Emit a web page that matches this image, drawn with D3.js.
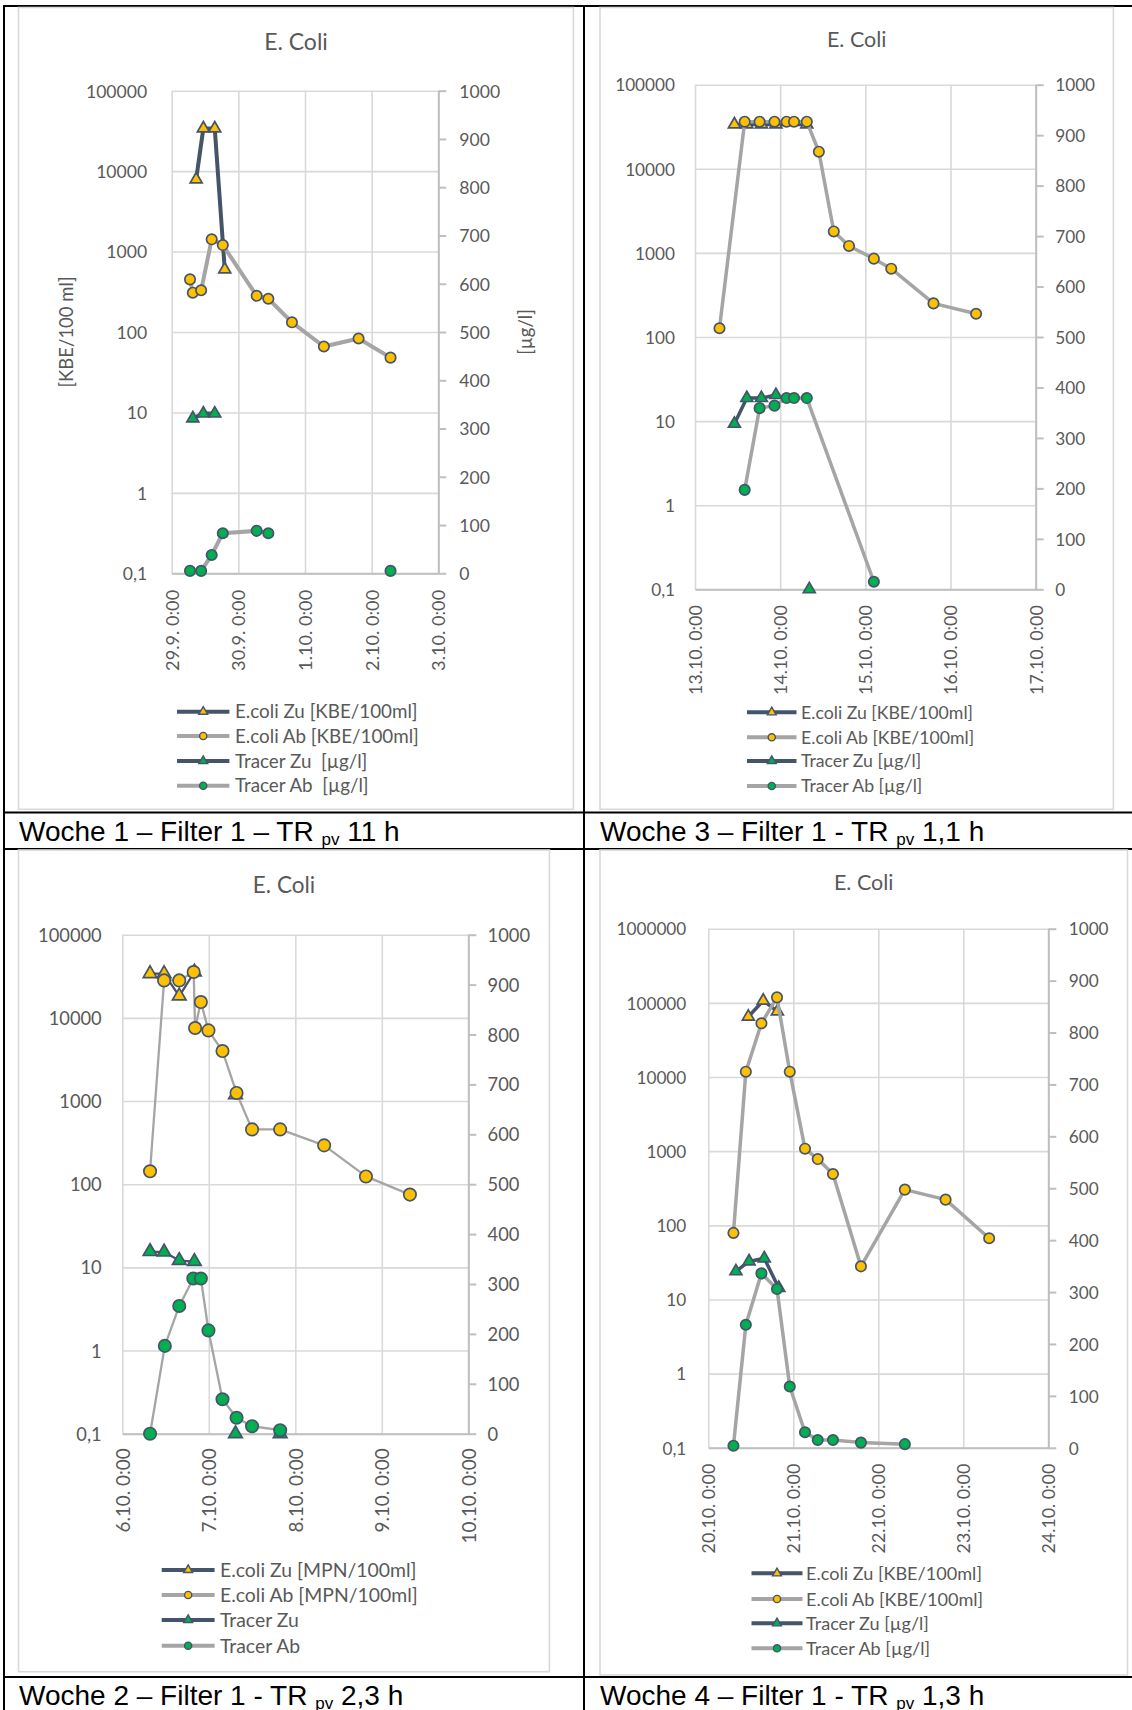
<!DOCTYPE html>
<html><head><meta charset="utf-8">
<script src="https://cdn.jsdelivr.net/npm/d3@7"></script>
<style>
body{margin:0;background:#fff;}
svg{display:block;}
text{white-space:pre;}
</style></head><body>
<svg id="c" width="1132" height="1710"></svg>
<script>
// ---------------- DATA (hours after the first axis day, 0:00) ----------------
// Woche 1 (axis starts 29.9. 0:00)
const w1_ecoliZu_h = [8.8, 11.4, 15.5, 19.1];
const w1_ecoliZu_v = [7900, 34000, 34000, 600];
const w1_ecoliAb_h = [6.6, 7.6, 10.6, 14.4, 18.4, 30.6, 34.8, 43.3, 54.8, 67.3, 78.8];
const w1_ecoliAb_v = [451, 308, 330, 1420, 1205, 282, 259, 132, 66, 83, 48];
const w1_tracerZu_h = [7.6, 11.4, 15.5];
const w1_tracerZu_v = [321, 331, 331];
const w1_tracerAb_h = [6.6, 10.6, 14.4, 18.4, 30.6, 34.8, 43.3, 78.8];
const w1_tracerAb_v = [5, 5, 38, 83, 88, 83, null, 5];

// Woche 3 (axis starts 13.10. 0:00)
const w3_ecoliZu_h = [11.1, 14.6, 18.7, 22.8, 31.5];
const w3_ecoliZu_v = [33700, 33700, 33700, 33700, 33700];
const w3_ecoliAb_h = [6.9, 14.0, 18.2, 22.4, 25.8, 27.9, 31.5, 34.9, 39.1, 43.4, 50.4, 55.3, 67.2, 79.2];
const w3_ecoliAb_v = [127, 36300, 36300, 36300, 36300, 36300, 36300, 15960, 1800, 1210, 854, 649, 251, 189];
const w3_tracerZu_h = [11.1, 14.6, 18.7, 22.8, 27.9, 32.2];
const w3_tracerZu_v = [328, 379, 379, 385, null, 0];
const w3_tracerAb_h = [14.0, 18.2, 22.4, 25.8, 27.9, 31.5, 50.4];
const w3_tracerAb_v = [197, 359, 364, 379, 379, 379, 15];

// Woche 2 (axis starts 6.10. 0:00)
const w2_ecoliZu_h = [7.7, 11.6, 15.8, 20.0, 23.9, 31.4];
const w2_ecoliZu_v = [34000, 34000, 18300, 35600, null, 1190];
const w2_ecoliAb_h = [7.7, 11.6, 15.8, 19.8, 20.2, 21.8, 23.9, 27.8, 31.7, 36.0, 43.8, 56.0, 67.6, 79.8];
const w2_ecoliAb_v = [143, 28200, 28200, 35600, 7550, 15500, 7070, 3990, 1250, 456, 456, 293, 124, 75];
const w2_tracerZu_h = [7.7, 11.6, 15.8, 20.0, 23.9, 31.4, 36.0, 43.8];
const w2_tracerZu_v = [365, 364, 347, 345, null, 0, null, 0];
const w2_tracerAb_h = [7.7, 11.8, 15.8, 19.7, 21.8, 23.9, 27.8, 31.7, 36.0, 43.8];
const w2_tracerAb_v = [0, 176, 256, 311, 311, 207, 69, 32, 15, 7];

// Woche 4 (axis starts 20.10. 0:00)
const w4_ecoliZu_h = [11.3, 15.5, 19.5];
const w4_ecoliZu_v = [65000, 107000, 76800];
const w4_ecoliAb_h = [7.1, 10.6, 15.0, 19.4, 23.0, 27.3, 30.9, 35.2, 43.1, 55.5, 67.0, 79.3];
const w4_ecoliAb_v = [79, 11800, 53000, 118600, 11800, 1080, 783, 492, 28, 303, 222, 67];
const w4_tracerZu_h = [7.8, 11.5, 15.8, 19.9];
const w4_tracerZu_v = [340, 359, 365, 308];
const w4_tracerAb_h = [7.1, 10.6, 15.0, 19.4, 23.0, 27.3, 30.9, 35.2, 43.1, 55.5];
const w4_tracerAb_v = [4, 237, 336, 306, 118, 30, 15, 15, 10, 7];

// tick values / labels
const hourTicks = [0, 24, 48, 72, 96];
const w1_dayLabels = ["29.9. 0:00", "30.9. 0:00", "1.10. 0:00", "2.10. 0:00", "3.10. 0:00"];
const w2_dayLabels = ["6.10. 0:00", "7.10. 0:00", "8.10. 0:00", "9.10. 0:00", "10.10. 0:00"];
const w3_dayLabels = ["13.10. 0:00", "14.10. 0:00", "15.10. 0:00", "16.10. 0:00", "17.10. 0:00"];
const w4_dayLabels = ["20.10. 0:00", "21.10. 0:00", "22.10. 0:00", "23.10. 0:00", "24.10. 0:00"];
const logTicks5 = [0.1, 1, 10, 100, 1000, 10000, 100000];
const logTicks6 = [0.1, 1, 10, 100, 1000, 10000, 100000, 1000000];
const rightTicks = [0, 100, 200, 300, 400, 500, 600, 700, 800, 900, 1000];

const legendKBE = ["E.coli Zu [KBE/100ml]", "E.coli Ab [KBE/100ml]", "Tracer Zu [µg/l]", "Tracer Ab [µg/l]"];
const legendW1 = ["E.coli Zu [KBE/100ml]", "E.coli Ab [KBE/100ml]", "Tracer Zu  [µg/l]", "Tracer Ab  [µg/l]"];
const legendMPN = ["E.coli Zu [MPN/100ml]", "E.coli Ab [MPN/100ml]", "Tracer Zu", "Tracer Ab"];

const captions = [
  {pre: "Woche 1 – Filter 1 – TR ", post: " 11 h"},
  {pre: "Woche 3 – Filter 1 - TR ", post: " 1,1 h"},
  {pre: "Woche 2 – Filter 1 - TR ", post: " 2,3 h"},
  {pre: "Woche 4 – Filter 1 - TR ", post: " 1,3 h"}
];

// ---------------- STYLE ----------------
const FONT = "Lato, 'Open Sans', sans-serif";
const C_DARK = "#44546A", C_GRAY = "#A5A5A5", C_YEL = "#FFC000", C_GRN = "#00B050";
const C_TXT = "#595959", C_GRID = "#D9D9D9", C_AX = "#BFBFBF";

const svg = d3.select("#c");

// ---------------- TABLE ----------------
const tbl = svg.append("g").attr("stroke", "#000").attr("stroke-width", 2);
[[3, 6, 1132, 6], [3, 812.5, 1132, 812.5], [3, 849, 1132, 849], [3, 1677, 1132, 1677],
 [4, 6, 4, 1710], [584, 6, 584, 1710]].forEach(l =>
  tbl.append("line").attr("x1", l[0]).attr("y1", l[1]).attr("x2", l[2]).attr("y2", l[3]));

const capPos = [[19, 841], [600, 841], [19, 1705], [600, 1705]];
captions.forEach((c, i) => {
  const t = svg.append("text").attr("x", capPos[i][0]).attr("y", capPos[i][1])
    .attr("font-family", "'Liberation Sans', Arial, sans-serif").attr("font-size", 28).attr("fill", "#000");
  t.append("tspan").text(c.pre);
  t.append("tspan").attr("font-size", 17).attr("dy", 4).text("pv");
  t.append("tspan").attr("dy", -4).text(c.post);
});

// ---------------- PANELS ----------------
const panels = [
  {box: [18.5, 7.5, 573.4, 809.3], x0: 171.7, x1: 438.3, y0: 90.7, y1: 573.3, logTicks: logTicks5,
   fs: 17.6, lfs: 18.8, tX: 296, tY: 50, tFs: 23, lpad: 24.5, rpad: 13, xgap: 16.5,
   leg: [711.7, 736, 761, 785.7], lx0: 177, lx1: 229.4, ltx: 235, lw: 4, r: 5.2, tri: 62,
   labels: w1_dayLabels, legend: legendW1, yTitles: true,
   s: [[w1_ecoliZu_h, w1_ecoliZu_v], [w1_ecoliAb_h, w1_ecoliAb_v], [w1_tracerZu_h, w1_tracerZu_v], [w1_tracerAb_h, w1_tracerAb_v]]},
  {box: [600, 7.5, 1113.4, 809.3], x0: 695, x1: 1035.7, y0: 84.7, y1: 589.3, logTicks: logTicks5,
   fs: 17.2, lfs: 17.7, tX: 856.7, tY: 46.7, tFs: 21.5, lpad: 20, rpad: 11.5, xgap: 16,
   leg: [712.3, 737.3, 761, 786], lx0: 747, lx1: 796.5, ltx: 801, lw: 3.5, r: 5.2, tri: 62,
   labels: w3_dayLabels, legend: legendKBE, yTitles: false,
   s: [[w3_ecoliZu_h, w3_ecoliZu_v], [w3_ecoliAb_h, w3_ecoliAb_v], [w3_tracerZu_h, w3_tracerZu_v], [w3_tracerAb_h, w3_tracerAb_v]]},
  {box: [18.5, 850, 549.4, 1671.7], x0: 122.3, x1: 468.3, y0: 934.7, y1: 1433.7, logTicks: logTicks5,
   fs: 18.3, lfs: 19.4, tX: 284, tY: 893, tFs: 22.5, lpad: 20.6, rpad: 11.3, xgap: 14.6,
   leg: [1570, 1595, 1620, 1645.7], lx0: 161.7, lx1: 214.6, ltx: 220, lw: 2.3, r: 6.2, tri: 80,
   labels: w2_dayLabels, legend: legendMPN, yTitles: false,
   s: [[w2_ecoliZu_h, w2_ecoliZu_v], [w2_ecoliAb_h, w2_ecoliAb_v], [w2_tracerZu_h, w2_tracerZu_v], [w2_tracerAb_h, w2_tracerAb_v]]},
  {box: [600, 850, 1127.5, 1675], x0: 708.3, x1: 1048.3, y0: 928.7, y1: 1447.8, logTicks: logTicks6,
   fs: 17.2, lfs: 18.1, tX: 863.7, tY: 890, tFs: 21.5, lpad: 22, rpad: 12.4, xgap: 16,
   leg: [1573.3, 1599, 1623.3, 1648.3], lx0: 751.5, lx1: 802.5, ltx: 806, lw: 3.5, r: 5.2, tri: 62,
   labels: w4_dayLabels, legend: legendKBE, yTitles: false,
   s: [[w4_ecoliZu_h, w4_ecoliZu_v], [w4_ecoliAb_h, w4_ecoliAb_v], [w4_tracerZu_h, w4_tracerZu_v], [w4_tracerAb_h, w4_tracerAb_v]]}
];

// series styles: [line colour, marker type, marker fill, axis]
const seriesStyle = [
  {line: C_DARK, tri: true, fill: C_YEL, axis: "L"},
  {line: C_GRAY, tri: false, fill: C_YEL, axis: "L"},
  {line: C_DARK, tri: true, fill: C_GRN, axis: "R"},
  {line: C_GRAY, tri: false, fill: C_GRN, axis: "R"}
];

const logFmt = d => d < 1 ? String(d).replace(".", ",") : d3.format("d")(d);

panels.forEach(P => {
  const g = svg.append("g");
  g.append("rect").attr("x", P.box[0]).attr("y", P.box[1])
    .attr("width", P.box[2] - P.box[0]).attr("height", P.box[3] - P.box[1])
    .attr("fill", "#fff").attr("stroke", C_GRID).attr("stroke-width", 1.6);

  const x = d3.scaleLinear().domain([0, 96]).range([P.x0, P.x1]);
  const yL = d3.scaleLog().domain([0.1, P.logTicks[P.logTicks.length - 1]]).range([P.y1, P.y0]);
  const yR = d3.scaleLinear().domain([0, 1000]).range([P.y1, P.y0]);

  // title
  g.append("text").attr("x", P.tX).attr("y", P.tY).attr("text-anchor", "middle")
    .attr("font-family", FONT).attr("font-size", P.tFs).attr("fill", C_TXT).text("E. Coli");

  // horizontal grid
  g.append("g").attr("transform", `translate(${P.x0},0)`)
    .call(d3.axisLeft(yL).tickValues(P.logTicks).tickSize(-(P.x1 - P.x0)).tickSizeOuter(0).tickFormat(""))
    .call(s => { s.select(".domain").remove(); s.selectAll("line").attr("stroke", C_GRID).attr("stroke-width", 1.6); });
  // vertical grid
  g.append("g").attr("transform", `translate(0,${P.y1})`)
    .call(d3.axisBottom(x).tickValues(hourTicks).tickSize(-(P.y1 - P.y0)).tickSizeOuter(0).tickFormat(""))
    .call(s => { s.select(".domain").remove(); s.selectAll("line").attr("stroke", C_GRID).attr("stroke-width", 1.6); });

  // left labels
  g.append("g").attr("transform", `translate(${P.x0},0)`)
    .call(d3.axisLeft(yL).tickValues(P.logTicks).tickSize(0).tickPadding(P.lpad).tickFormat(logFmt))
    .call(s => {
      s.select(".domain").remove();
      s.selectAll("text").attr("fill", C_TXT).attr("font-size", P.fs).attr("font-family", FONT).attr("dy", "0.36em");
    });

  // bottom axis with rotated date labels
  g.append("g").attr("transform", `translate(0,${P.y1})`)
    .call(d3.axisBottom(x).tickValues(hourTicks).tickSize(0).tickSizeOuter(0).tickFormat((d, i) => P.labels[i]))
    .call(s => {
      s.select(".domain").attr("stroke", C_AX).attr("stroke-width", 2);
      s.selectAll("text").attr("transform", "rotate(-90)").attr("x", -P.xgap).attr("y", 0)
        .attr("dy", "0.36em").attr("text-anchor", "end")
        .attr("fill", C_TXT).attr("font-size", P.fs + 0.6).attr("font-family", FONT);
    });

  // right axis
  g.append("g").attr("transform", `translate(${P.x1},0)`)
    .call(d3.axisRight(yR).tickValues(rightTicks).tickSize(8).tickSizeOuter(0).tickPadding(P.rpad).tickFormat(d3.format("d")))
    .call(s => {
      s.select(".domain").attr("stroke", C_AX).attr("stroke-width", 2);
      s.selectAll(".tick line").attr("stroke", C_AX).attr("stroke-width", 2);
      s.selectAll("text").attr("fill", C_TXT).attr("font-size", P.fs).attr("font-family", FONT).attr("dy", "0.36em");
    });

  if (P.yTitles) {
    const cy = (P.y0 + P.y1) / 2;
    g.append("text").attr("transform", `translate(66.6,${cy}) rotate(-90)`).attr("text-anchor", "middle")
      .attr("dy", "0.36em").attr("font-family", FONT).attr("font-size", 18.5).attr("fill", C_TXT).text("[KBE/100 ml]");
    g.append("text").attr("transform", `translate(525,${cy}) rotate(-90)`).attr("text-anchor", "middle")
      .attr("dy", "0.36em").attr("font-family", FONT).attr("font-size", 18.5).attr("fill", C_TXT).text("[µg/l]");
  }

  // series
  P.s.forEach((sd, k) => {
    const st = seriesStyle[k];
    const yS = st.axis === "L" ? yL : yR;
    const pts = sd[0].map((h, i) => ({h: h, v: sd[1][i]}));
    const line = d3.line().defined(d => d.v != null).x(d => x(d.h)).y(d => yS(d.v));
    g.append("path").datum(pts).attr("d", line).attr("fill", "none")
      .attr("stroke", st.line).attr("stroke-width", P.lw).attr("stroke-linejoin", "round").attr("stroke-linecap", "round");
    const valid = pts.filter(d => d.v != null);
    if (st.tri) {
      g.selectAll(null).data(valid).enter().append("path")
        .attr("d", d3.symbol().type(d3.symbolTriangle).size(P.tri))
        .attr("transform", d => `translate(${x(d.h)},${yS(d.v)})`)
        .attr("fill", st.fill).attr("stroke", C_DARK).attr("stroke-width", 1.7);
    } else {
      g.selectAll(null).data(valid).enter().append("circle")
        .attr("cx", d => x(d.h)).attr("cy", d => yS(d.v)).attr("r", P.r)
        .attr("fill", st.fill).attr("stroke", C_DARK).attr("stroke-width", 1.7);
    }
  });

  // legend
  P.legend.forEach((lab, k) => {
    const st = seriesStyle[k];
    const ly = P.leg[k];
    g.append("line").attr("x1", P.lx0).attr("x2", P.lx1).attr("y1", ly).attr("y2", ly)
      .attr("stroke", st.line).attr("stroke-width", 4);
    const mx = (P.lx0 + P.lx1) / 2;
    if (st.tri) {
      g.append("path").attr("d", d3.symbol().type(d3.symbolTriangle).size(34)())
        .attr("transform", `translate(${mx},${ly})`).attr("fill", st.fill).attr("stroke", C_DARK).attr("stroke-width", 1.4);
    } else {
      g.append("circle").attr("cx", mx).attr("cy", ly).attr("r", 3.6)
        .attr("fill", st.fill).attr("stroke", C_DARK).attr("stroke-width", 1.4);
    }
    g.append("text").attr("x", P.ltx).attr("y", ly).attr("dy", "0.36em")
      .attr("font-family", FONT).attr("font-size", P.lfs).attr("fill", C_TXT).text(lab);
  });
});
</script>
</body></html>
